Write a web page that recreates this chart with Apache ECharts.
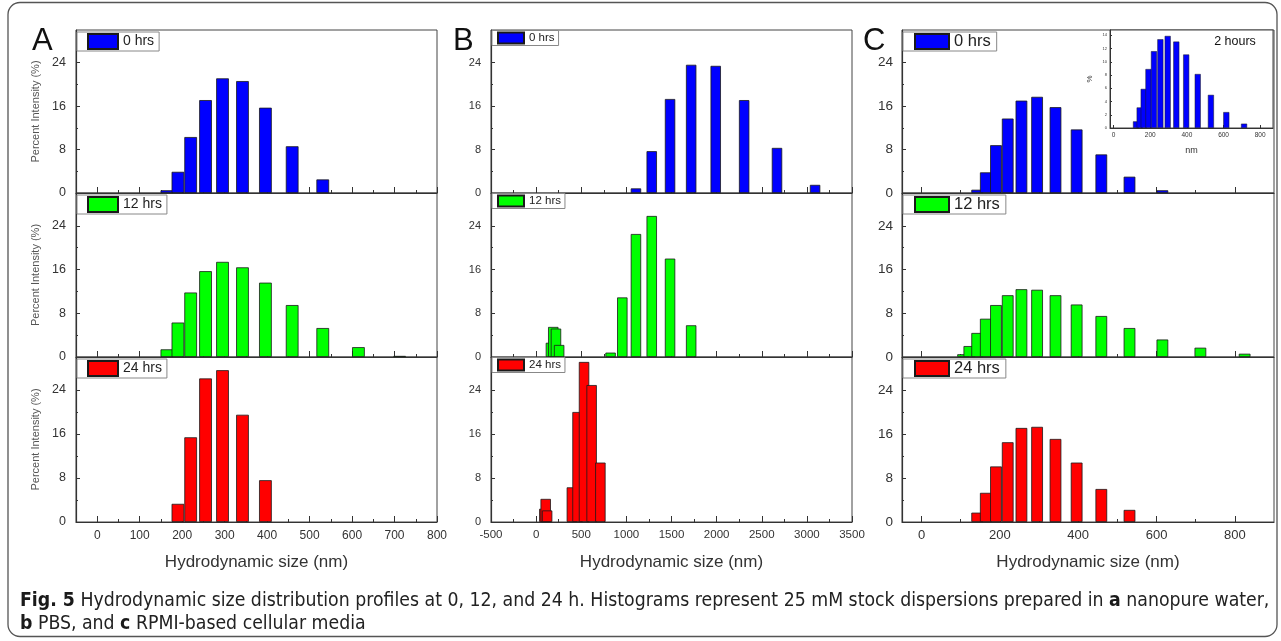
<!DOCTYPE html>
<html>
<head>
<meta charset="utf-8">
<script src="https://cdn.jsdelivr.net/npm/echarts@6/dist/echarts.min.js"></script>
<style>
  html, body { margin: 0; padding: 0; background: #fff; }
  #main { width: 1281px; height: 641px; }
</style>
</head>
<body>
<div id="main"></div>
<script>
// hydrodynamic size bins (nm) and percent intensity
// A - nanopure water
var a0Size = [164, 190, 220, 255, 295, 342, 396, 459, 531]
var a0Pct = [0.5, 3.9, 10.3, 17.1, 21.1, 20.6, 15.7, 8.6, 2.5]
var a12Size = [164, 190, 220, 255, 295, 342, 396, 459, 531, 615, 712]
var a12Pct = [1.4, 6.3, 11.8, 15.7, 17.4, 16.4, 13.6, 9.5, 5.3, 1.8, 0.2]
var a24Size = [190, 220, 255, 295, 342, 396]
var a24Pct = [3.3, 15.4, 26.1, 27.6, 19.5, 7.6]
// B - PBS
var b0Size = [1106, 1281, 1484, 1718, 1990, 2305, 2669, 3091]
var b0Pct = [0.85, 7.7, 17.3, 23.6, 23.4, 17.1, 8.3, 1.5]
var b12Size = [164, 190, 220, 255, 825, 955, 1106, 1281, 1484, 1718]
var b12Pct = [2.6, 5.5, 5.2, 2.2, 0.8, 10.9, 22.5, 25.8, 18.0, 5.8]
var b24Size = [91, 106, 122, 396, 459, 531, 615, 712]
var b24Pct = [2.4, 4.2, 2.1, 6.3, 20.0, 29.1, 24.9, 10.8]
// C - RPMI media
var c0Size = [142, 164, 190, 220, 255, 295, 342, 396, 459, 531, 615]
var c0Pct = [0.6, 3.8, 8.8, 13.7, 17.0, 17.7, 15.8, 11.7, 7.1, 3.0, 0.5]
var c12Size = [106, 122, 142, 164, 190, 220, 255, 295, 342, 396, 459, 531, 615, 712, 825]
var c12Pct = [0.5, 2.0, 4.4, 7.0, 9.5, 11.3, 12.4, 12.3, 11.3, 9.6, 7.5, 5.3, 3.2, 1.7, 0.6]
var c24Size = [142, 164, 190, 220, 255, 295, 342, 396, 459, 531]
var c24Pct = [1.7, 5.3, 10.1, 14.5, 17.1, 17.3, 15.1, 10.8, 6.0, 2.2]
// inset, 2 hours
var insetSize = [122, 142, 164, 190, 220, 255, 295, 342, 396, 459, 531, 615, 712]
var insetPct = [1.0, 3.1, 5.9, 8.9, 11.6, 13.4, 13.9, 13.05, 11.1, 8.15, 5.0, 2.4, 0.65]

// tick values
var xTicksA = [0, 100, 200, 300, 400, 500, 600, 700, 800]
var xMinorA = [50, 150, 250, 350, 450, 550, 650, 750]
var xTicksB = [-500, 0, 500, 1000, 1500, 2000, 2500, 3000, 3500]
var xMinorB = [-250, 250, 750, 1250, 1750, 2250, 2750, 3250]
var xTicksC = [0, 200, 400, 600, 800]
var xMinorC = [100, 300, 500, 700]
var yTicks = [0, 8, 16, 24]
var yMinor = [4, 12, 20, 28]
var insetXTicks = [0, 200, 400, 600, 800]
var insetYTicks = [0, 2, 4, 6, 8, 10, 12, 14]

var hrs = ['0 hrs', '12 hrs', '24 hrs']

var font = 'Arial, "Liberation Sans", Helvetica, sans-serif'
var barColors = ['#0000ff', '#00ff00', '#ff0000']
var rowTop = [30, 193, 357]
var rowH = [163, 164, 165]

var zip = function (xs, ys) {
  return xs.map(function (x, i) { return [x, ys[i]] })
}
// plain numbers, no thousands separator
var plain = function (v) { return String(v) }

var panels = [
  {
    left: 76, width: 361, min: -50, max: 800, ticks: xTicksA, minor: xMinorA,
    barW: 12.7, xFont: 12, yFont: 12.5, yMargin: 10, xMargin: 8,
    lg: { dy: 2, pad: [1, 5, 1, 10], w: 30, h: 15, font: 14 },
    data: [[a0Size, a0Pct], [a12Size, a12Pct], [a24Size, a24Pct]]
  },
  {
    left: 491, width: 361, min: -500, max: 3500, ticks: xTicksB, minor: xMinorB,
    barW: 10.4, xFont: 11.5, yFont: 11, yMargin: 10, xMargin: 7,
    lg: { dy: 0.5, pad: [1, 4, 1, 5], w: 26, h: 11, font: 11.5 },
    data: [[b0Size, b0Pct], [b12Size, b12Pct], [b24Size, b24Pct]]
  },
  {
    left: 902, width: 372, min: -50, max: 900, ticks: xTicksC, minor: xMinorC,
    barW: 11.7, xFont: 13, yFont: 13.5, yMargin: 9, xMargin: 7,
    lg: { dy: 2, pad: [1, 6, 1, 11], w: 34, h: 15, font: 16.5 },
    data: [[c0Size, c0Pct], [c12Size, c12Pct], [c24Size, c24Pct]]
  }
]

var grids = [], xAxes = [], yAxes = [], series = [], legends = []

panels.forEach(function (p, c) {
  for (var r = 0; r < 3; r++) {
    var g = grids.length
    var bottom = r === 2
    grids.push({
      left: p.left, top: rowTop[r], width: p.width, height: rowH[r],
      show: true, borderColor: '#444', borderWidth: 1, backgroundColor: '#fff'
    })
    xAxes.push({
      type: 'value', gridIndex: g, position: 'bottom', min: p.min, max: p.max,
      axisLine: { show: true, onZero: false, lineStyle: { color: '#333', width: 1.2 } },
      axisTick: { show: true, inside: true, length: 6, customValues: p.ticks, lineStyle: { color: '#333' } },
      axisLabel: { show: bottom, customValues: p.ticks, formatter: plain, fontSize: p.xFont, color: '#333', fontFamily: font, margin: p.xMargin },
      splitLine: { show: false },
      name: bottom ? 'Hydrodynamic size (nm)' : '',
      nameLocation: 'middle', nameGap: 32,
      nameTextStyle: { fontSize: 17, color: '#333', fontFamily: font }
    })
    // minor ticks
    xAxes.push({
      type: 'value', gridIndex: g, position: 'bottom', min: p.min, max: p.max,
      axisLine: { show: false, onZero: false },
      axisTick: { show: true, inside: true, length: 3, customValues: p.minor, lineStyle: { color: '#333' } },
      axisLabel: { show: false }, splitLine: { show: false }
    })
    yAxes.push({
      type: 'value', gridIndex: g, position: 'left', min: 0, max: 30,
      axisLine: { show: true, onZero: false, lineStyle: { color: '#333', width: 1.2 } },
      axisTick: { show: true, inside: true, length: 4, customValues: yTicks, lineStyle: { color: '#333' } },
      axisLabel: { customValues: yTicks, fontSize: p.yFont, color: '#333', fontFamily: font, margin: p.yMargin },
      splitLine: { show: false },
      name: c === 0 ? 'Percent Intensity (%)' : '',
      nameLocation: 'middle', nameGap: 35,
      nameTextStyle: { fontSize: 11, color: '#555', fontFamily: font }
    })
    yAxes.push({
      type: 'value', gridIndex: g, position: 'left', min: 0, max: 30,
      axisLine: { show: false, onZero: false },
      axisTick: { show: true, inside: true, length: 2, customValues: yMinor, lineStyle: { color: '#333' } },
      axisLabel: { show: false }, splitLine: { show: false }
    })
    series.push({
      type: 'bar', name: hrs[r], xAxisIndex: 2 * g, yAxisIndex: 2 * g,
      barWidth: p.barW, animation: false,
      data: zip(p.data[r][0], p.data[r][1]),
      itemStyle: { color: barColors[r], borderColor: '#1a1a1a', borderWidth: 0.8 }
    })
    legends.push({
      data: [hrs[r]], left: p.left + 1, top: rowTop[r] + p.lg.dy,
      icon: 'rect', itemWidth: p.lg.w, itemHeight: p.lg.h, padding: p.lg.pad,
      borderColor: '#888', borderWidth: 1, backgroundColor: '#fff',
      selectedMode: false,
      textStyle: { fontSize: p.lg.font, color: '#222', fontFamily: font }
    })
  }
})

// inset of panel C (2 hours)
var gi = grids.length
grids.push({ left: 1110, top: 30, width: 163, height: 98, show: true, borderColor: '#444', borderWidth: 1, backgroundColor: '#fff' })
xAxes.push({
  type: 'value', gridIndex: gi, position: 'bottom', min: -20, max: 870,
  axisLine: { show: true, onZero: false, lineStyle: { color: '#333', width: 1 } },
  axisTick: { show: true, inside: true, length: 3, customValues: insetXTicks, lineStyle: { color: '#333' } },
  axisLabel: { customValues: insetXTicks, fontSize: 6.5, color: '#333', fontFamily: font, margin: 4 },
  splitLine: { show: false },
  name: 'nm', nameLocation: 'middle', nameGap: 18,
  nameTextStyle: { fontSize: 9, color: '#333', fontFamily: font }
})
yAxes.push({
  type: 'value', gridIndex: gi, position: 'left', min: 0, max: 14.8,
  axisLine: { show: true, onZero: false, lineStyle: { color: '#333', width: 1 } },
  axisTick: { show: true, inside: true, length: 2, customValues: insetYTicks, lineStyle: { color: '#333' } },
  axisLabel: { customValues: insetYTicks, fontSize: 4, color: '#333', fontFamily: font, margin: 3 },
  splitLine: { show: false },
  name: '%', nameLocation: 'middle', nameGap: 16,
  nameTextStyle: { fontSize: 8, color: '#333', fontFamily: font }
})
series.push({
  type: 'bar', name: '2 hours', xAxisIndex: xAxes.length - 1, yAxisIndex: yAxes.length - 1,
  barWidth: 6, animation: false,
  data: zip(insetSize, insetPct),
  itemStyle: { color: '#0000ff', borderColor: '#1a1a1a', borderWidth: 0.5 }
})

var letter = function (t, x) {
  return { type: 'text', z: 100, style: { text: t, x: x, y: 41, font: '31px ' + font, fill: '#111', textVerticalAlign: 'middle' } }
}
var capFamily = '"Liberation Sans Narrow", "DejaVu Sans Condensed", "Arial Narrow", sans-serif'
var capFont = '19.3px ' + capFamily
var capRich = { b: { fontWeight: 'bold', fontSize: 19.3, fontFamily: capFamily, fill: '#1a1a1a' } }

var option = {
  animation: false,
  backgroundColor: '#fff',
  grid: grids,
  xAxis: xAxes,
  yAxis: yAxes,
  legend: legends,
  series: series,
  graphic: [
    { type: 'rect', z: 100, shape: { x: 8, y: 2.5, width: 1269, height: 634, r: 12 }, style: { fill: 'none', stroke: '#555', lineWidth: 1.3 } },
    letter('A', 32),
    letter('B', 453),
    letter('C', 863),
    { type: 'text', z: 100, style: { text: '2 hours', x: 1235, y: 42, font: '12.5px ' + font, fill: '#111', textAlign: 'center', textVerticalAlign: 'middle' } },
    {
      type: 'text', z: 100,
      style: {
        text: '{b|Fig. 5} Hydrodynamic size distribution profiles at 0, 12, and 24 h. Histograms represent 25 mM stock dispersions prepared in {b|a} nanopure water,',
        x: 20, y: 601, font: capFont, fill: '#222', textVerticalAlign: 'middle', rich: capRich
      }
    },
    {
      type: 'text', z: 100,
      style: {
        text: '{b|b} PBS, and {b|c} RPMI-based cellular media',
        x: 20, y: 624, font: capFont, fill: '#222', textVerticalAlign: 'middle', rich: capRich
      }
    }
  ]
}

var chart = echarts.init(document.getElementById('main'))
chart.setOption(option)
</script>
</body>
</html>
